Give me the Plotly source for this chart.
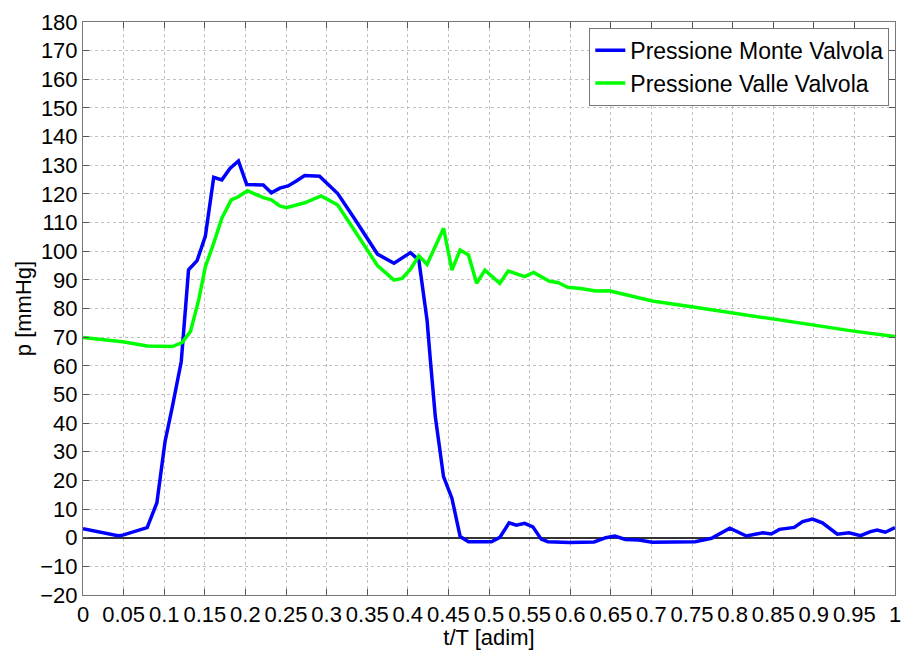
import plotly.graph_objects as go

# Upstream (Monte) valve pressure
t_monte = [0, 0.02, 0.043, 0.049, 0.079, 0.091, 0.101, 0.110, 0.121, 0.130,
           0.1405, 0.1507, 0.161, 0.171, 0.181, 0.1914, 0.2016, 0.222, 0.232, 0.2424,
           0.2526, 0.2627, 0.273, 0.2913, 0.3137, 0.334, 0.3626, 0.383, 0.4033, 0.4136,
           0.4237, 0.4278, 0.4339, 0.444, 0.4543, 0.4645, 0.4747, 0.503, 0.5133, 0.5248,
           0.5337, 0.5439, 0.554, 0.5643, 0.5725, 0.599, 0.6295, 0.6438, 0.655, 0.668,
           0.6845, 0.701, 0.7293, 0.7538, 0.774, 0.7966, 0.817, 0.8373, 0.8476, 0.8577,
           0.876, 0.8862, 0.8985, 0.9106, 0.929, 0.9433, 0.9576, 0.9698, 0.978, 0.988, 1.0]
p_monte = [3.1, 2.1, 0.7, 0.9, 3.5, 12.2, 33.5, 45.7, 61.5, 93.5,
           96.7, 105.3, 125.8, 124.9, 128.9, 131.5, 123.3, 123.1, 120.4, 122.0,
           122.8, 124.5, 126.4, 126.2, 120.1, 111.5, 99.0, 95.8, 99.5, 96.9,
           76.0, 62.0, 42.2, 21.3, 13.8, 0.4, -1.4, -1.4, 0.1, 5.2,
           4.4, 5.0, 3.8, -0.5, -1.4, -1.7, -1.5, 0.0, 0.6, -0.6,
           -0.8, -1.6, -1.4, -1.4, -0.2, 3.3, 0.6, 1.7, 1.3, 2.9,
           3.6, 5.6, 6.5, 5.2, 1.2, 1.7, 0.7, 2.1, 2.7, 1.9, 3.5]

# Downstream (Valle) valve pressure
t_valle = [0, 0.0488, 0.0793, 0.11, 0.122, 0.1324, 0.1425, 0.1507, 0.161, 0.171,
           0.1825, 0.1914, 0.2024, 0.222, 0.232, 0.2424, 0.2505, 0.273, 0.2933, 0.3137,
           0.334, 0.3626, 0.383, 0.393, 0.4033, 0.4136, 0.4237, 0.4441, 0.4543, 0.4644,
           0.4747, 0.4848, 0.495, 0.5133, 0.5236, 0.5439, 0.555, 0.5745, 0.5847, 0.597,
           0.613, 0.6315, 0.648, 0.672, 0.701, 0.7497, 0.7987, 0.8476, 0.9005, 0.949, 1.0]
p_valle = [69.9, 68.4, 66.9, 66.7, 68.1, 72.0, 83.0, 94.6, 102.8, 111.5,
           117.9, 119.0, 121.1, 118.7, 117.9, 115.8, 115.2, 116.9, 119.3, 116.1,
           107.4, 95.0, 89.9, 90.5, 93.7, 98.4, 95.4, 108.0, 93.4, 100.4,
           98.7, 88.8, 93.4, 88.8, 93.1, 91.1, 92.6, 89.5, 89.1, 87.4,
           87.0, 86.1, 86.2, 84.7, 82.6, 80.6, 78.5, 76.3, 74.2, 72.1, 70.2]

x_tickvals = [i * 0.05 for i in range(21)]
x_ticktext = ["0", "0.05", "0.1", "0.15", "0.2", "0.25", "0.3", "0.35", "0.4", "0.45",
              "0.5", "0.55", "0.6", "0.65", "0.7", "0.75", "0.8", "0.85", "0.9", "0.95", "1"]
y_tickvals = list(range(-20, 181, 10))

FONT = "Liberation Sans, Arial, sans-serif"
FS = 22

fig = go.Figure()
fig.add_trace(go.Scatter(x=t_monte, y=p_monte, mode="lines", name="Pressione Monte Valvola",
                         line=dict(color="#0000ff", width=3.5)))
fig.add_trace(go.Scatter(x=t_valle, y=p_valle, mode="lines", name="Pressione Valle Valvola",
                         line=dict(color="#00ff00", width=3.5)))

axis_common = dict(
    showline=True, linecolor="#777777", linewidth=1, mirror="ticks",
    ticks="inside", ticklen=6, tickcolor="#555555", tickwidth=1,
    showgrid=True, gridcolor="#c0c0c0", griddash="dot", gridwidth=1,
    tickfont=dict(family=FONT, size=FS, color="black"),
    ticklabeloverflow="allow",
)

fig.update_xaxes(range=[0, 1], tickmode="array", tickvals=x_tickvals, ticktext=x_ticktext,
                 tickangle=0, zeroline=False,
                 title=dict(text="t/T [adim]", font=dict(family=FONT, size=FS, color="black"),
                            standoff=0),
                 **axis_common)
fig.update_yaxes(range=[-20, 180], tickmode="array", tickvals=y_tickvals,
                 zeroline=True, zerolinecolor="#333333", zerolinewidth=1.5,
                 title=dict(text="p [mmHg]", font=dict(family=FONT, size=FS, color="black"),
                            standoff=2),
                 **axis_common)

fig.update_layout(
    width=907, height=650,
    margin=dict(l=83, r=6, t=22, b=55),
    paper_bgcolor="white", plot_bgcolor="white",
    font=dict(family=FONT, size=FS, color="black"),
    legend=dict(x=0.993, y=0.99, xanchor="right", yanchor="top",
                bgcolor="white", bordercolor="#777777", borderwidth=1,
                font=dict(family=FONT, size=23, color="black"),
                tracegroupgap=0, itemwidth=30),
    showlegend=True,
)

fig.write_html("out.html")
